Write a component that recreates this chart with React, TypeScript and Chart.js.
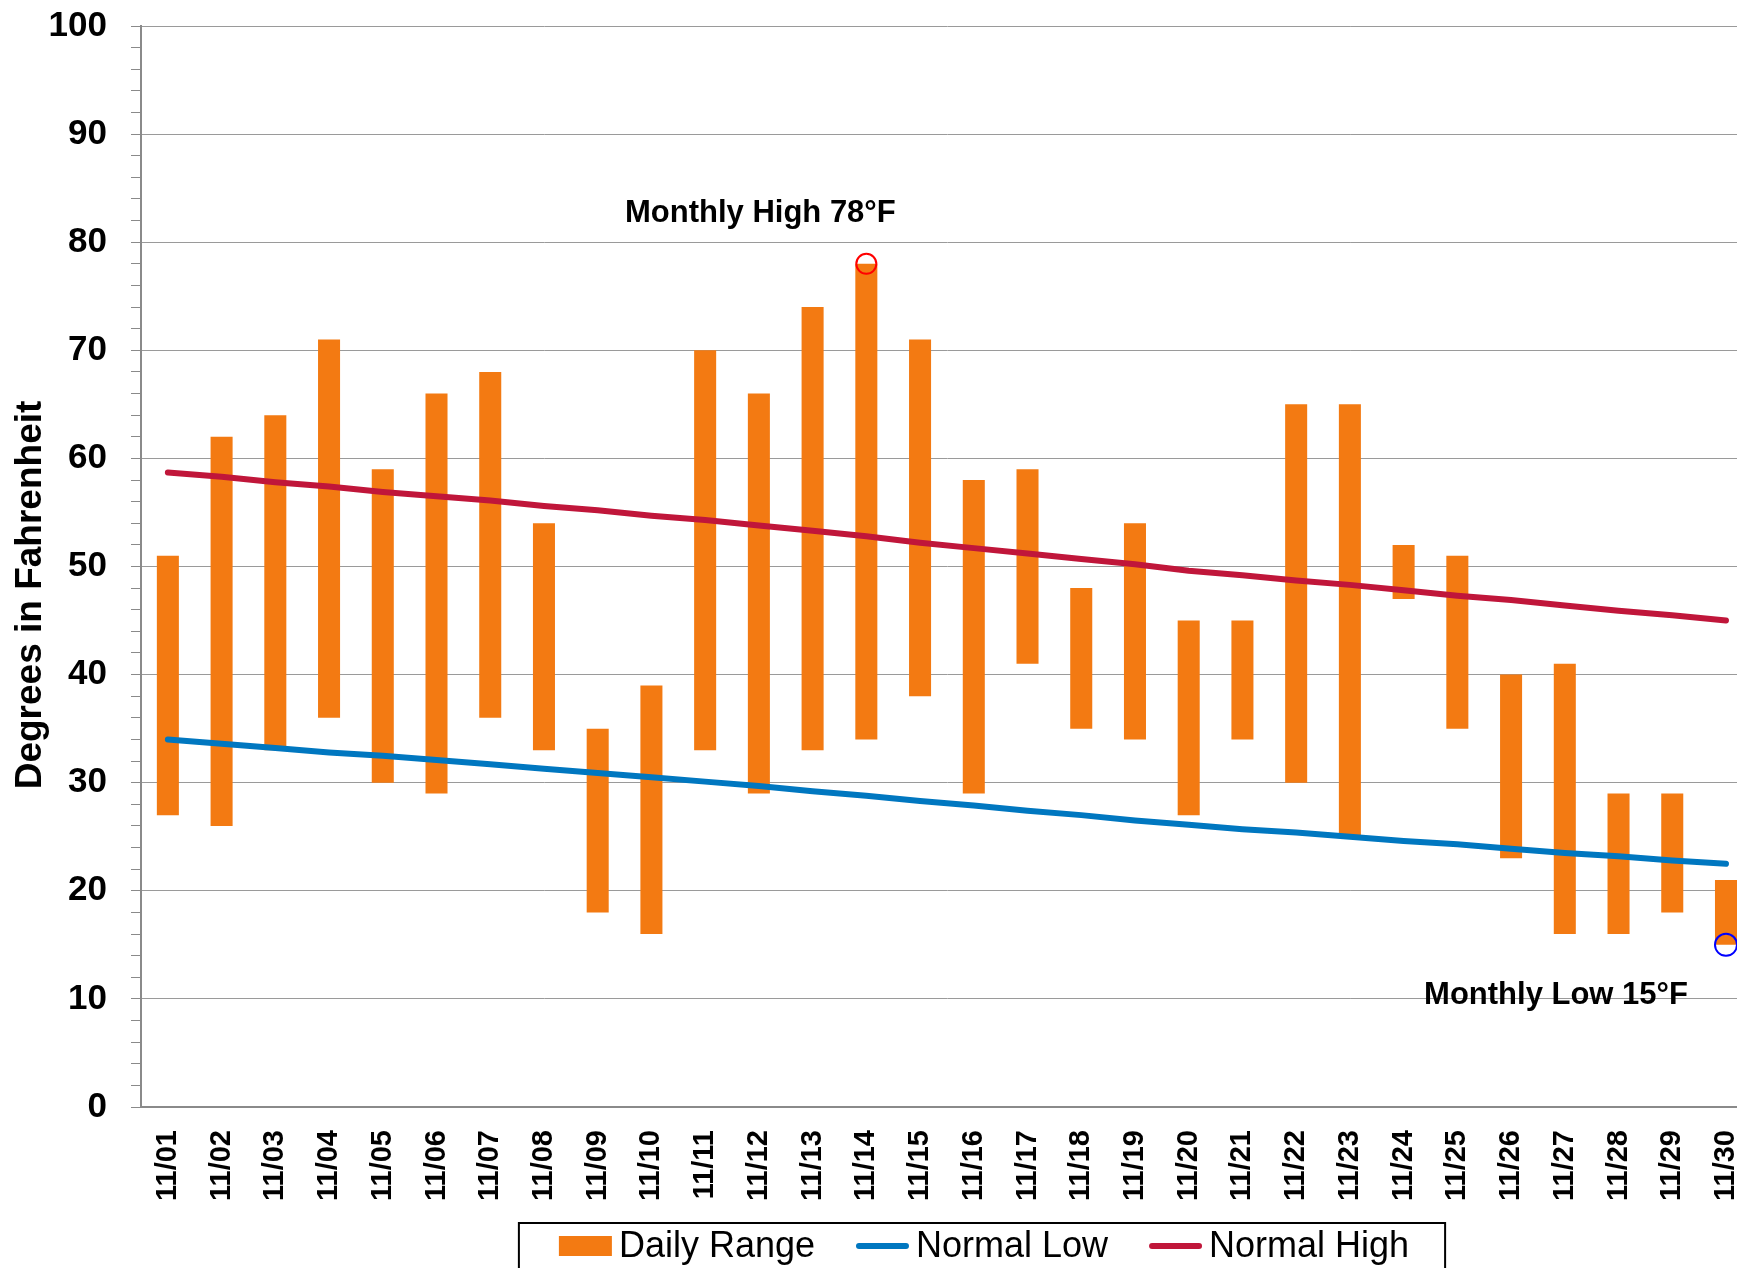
import { useEffect, useRef } from 'react';
import { Chart, registerables } from 'chart.js';

Chart.register(...registerables);

const categories = [
  '11/01', '11/02', '11/03', '11/04', '11/05', '11/06', '11/07', '11/08', '11/09', '11/10',
  '11/11', '11/12', '11/13', '11/14', '11/15', '11/16', '11/17', '11/18', '11/19', '11/20',
  '11/21', '11/22', '11/23', '11/24', '11/25', '11/26', '11/27', '11/28', '11/29', '11/30',
];
const dailyLows = [27, 26, 33, 36, 30, 29, 36, 33, 18, 16, 33, 29, 33, 34, 38, 29, 41, 35, 34, 27, 34, 30, 25, 47, 35, 23, 16, 16, 18, 15];
const dailyHighs = [51, 62, 64, 71, 59, 66, 68, 54, 35, 39, 70, 66, 74, 78, 71, 58, 59, 48, 54, 45, 45, 65, 65, 52, 51, 40, 41, 29, 29, 21];
const normalLow = [34.0, 33.6, 33.2, 32.8, 32.5, 32.1, 31.7, 31.3, 30.9, 30.5, 30.1, 29.7, 29.2, 28.8, 28.3, 27.9, 27.4, 27.0, 26.5, 26.1, 25.7, 25.4, 25.0, 24.6, 24.3, 23.9, 23.5, 23.2, 22.8, 22.5];
const normalHigh = [58.7, 58.3, 57.8, 57.4, 56.9, 56.5, 56.1, 55.6, 55.2, 54.7, 54.3, 53.8, 53.3, 52.8, 52.2, 51.7, 51.2, 50.7, 50.2, 49.6, 49.2, 48.7, 48.3, 47.8, 47.3, 46.9, 46.4, 45.9, 45.5, 45.0];
const yMajorTicks = [0, 10, 20, 30, 40, 50, 60, 70, 80, 90, 100];
const seriesLabels = ['Daily Range', 'Normal Low', 'Normal High'];
const seriesColors = ['#F37A12', '#0077C0', '#C0163A'];
const yTitle = 'Degrees in Fahrenheit';

const FONT = "'Liberation Sans', Arial, sans-serif";

export default function App() {
  const canvasRef = useRef<HTMLCanvasElement | null>(null);

  useEffect(() => {
    const canvas = canvasRef.current;
    if (!canvas) return;

    const maxHigh = Math.max(...dailyHighs);
    const maxIdx = dailyHighs.indexOf(maxHigh);
    const minLow = Math.min(...dailyLows);
    const minIdx = dailyLows.lastIndexOf(minLow);

    const extrasPlugin = {
      id: 'extras',
      afterDatasetsDraw(chart: any) {
        const ctx = chart.ctx as CanvasRenderingContext2D;
        const xs = chart.scales.x;
        const ys = chart.scales.y;
        ctx.save();
        ctx.fillStyle = '#000';
        ctx.font = `bold 31px ${FONT}`;
        ctx.textAlign = 'center';
        ctx.textBaseline = 'middle';
        const hx = xs.getPixelForValue(maxIdx);
        const hy = ys.getPixelForValue(maxHigh);
        ctx.fillText(`Monthly High ${maxHigh}°F`, hx - 106, hy - 50);
        const lx = xs.getPixelForValue(minIdx);
        const ly = ys.getPixelForValue(minLow);
        ctx.fillText(`Monthly Low ${minLow}°F`, lx - 170, ly + 51);
        ctx.restore();
      },
      afterDraw(chart: any) {
        const ctx = chart.ctx as CanvasRenderingContext2D;
        ctx.save();
        // y axis title
        ctx.translate(31, 595);
        ctx.rotate(-Math.PI / 2);
        ctx.fillStyle = '#000';
        ctx.font = `bold 37px ${FONT}`;
        ctx.textAlign = 'center';
        ctx.textBaseline = 'middle';
        ctx.fillText(yTitle, 0, 0);
        ctx.restore();

        // legend
        ctx.save();
        ctx.font = `36px ${FONT}`;
        const symW = 53;
        const symGap = 7;
        const itemGap = 41;
        const widths = seriesLabels.map((l) => ctx.measureText(l).width);
        const total = widths.reduce((a, b) => a + b, 0) + seriesLabels.length * (symW + symGap) + itemGap * (seriesLabels.length - 1);
        const cx = 984;
        let x = cx - total / 2;
        const cy = 1246;
        ctx.strokeStyle = '#000';
        ctx.lineWidth = 2;
        ctx.strokeRect(x - 40, 1223, total + 76, 90);
        ctx.textAlign = 'left';
        ctx.textBaseline = 'middle';
        seriesLabels.forEach((label, i) => {
          if (i === 0) {
            ctx.fillStyle = seriesColors[i];
            ctx.fillRect(x, cy - 10, symW, 20);
          } else {
            ctx.strokeStyle = seriesColors[i];
            ctx.lineWidth = 6;
            ctx.lineCap = 'round';
            ctx.beginPath();
            ctx.moveTo(x + 3, cy);
            ctx.lineTo(x + symW - 3, cy);
            ctx.stroke();
          }
          ctx.fillStyle = '#000';
          ctx.fillText(label, x + symW + symGap, cy + 1);
          x += symW + symGap + widths[i] + itemGap;
        });
        ctx.restore();
      },
    };

    const chart = new Chart(canvas, {
      type: 'bar',
      data: {
        labels: categories,
        datasets: [
          {
            type: 'line',
            label: 'Monthly High',
            data: dailyHighs.map((v, i) => (i === maxIdx ? v : null)),
            showLine: false,
            pointRadius: 10,
            pointBorderWidth: 2,
            pointBorderColor: '#FF0000',
            pointBackgroundColor: 'rgba(0,0,0,0)',
            order: 0,
          } as any,
          {
            type: 'line',
            label: 'Monthly Low',
            data: dailyLows.map((v, i) => (i === minIdx ? v : null)),
            showLine: false,
            pointRadius: 11,
            pointBorderWidth: 2,
            pointBorderColor: '#0000FF',
            pointBackgroundColor: 'rgba(0,0,0,0)',
            order: 0,
            clip: false,
          } as any,
          {
            type: 'line',
            label: seriesLabels[1],
            data: normalLow,
            borderColor: seriesColors[1],
            borderWidth: 6,
            borderCapStyle: 'round',
            borderJoinStyle: 'round',
            pointRadius: 0,
            tension: 0,
            order: 1,
          } as any,
          {
            type: 'line',
            label: seriesLabels[2],
            data: normalHigh,
            borderColor: seriesColors[2],
            borderWidth: 6,
            borderCapStyle: 'round',
            borderJoinStyle: 'round',
            pointRadius: 0,
            tension: 0,
            order: 1,
          } as any,
          {
            type: 'bar',
            label: seriesLabels[0],
            data: dailyLows.map((lo, i) => [lo, dailyHighs[i]]),
            backgroundColor: seriesColors[0],
            borderWidth: 0,
            barPercentage: 0.41,
            categoryPercentage: 1,
            grouped: false,
            order: 2,
          } as any,
        ],
      },
      options: {
        responsive: false,
        animation: false,
        devicePixelRatio: 1,
        layout: { padding: { left: 0, top: 26, right: 8, bottom: 55 } },
        plugins: {
          legend: { display: false },
          tooltip: { enabled: false },
          title: { display: false },
        },
        scales: {
          x: {
            type: 'category',
            offset: true,
            grid: { display: false, drawTicks: false },
            border: { display: true, color: '#8a8a8a', width: 2 },
            ticks: {
              autoSkip: false,
              maxRotation: 90,
              minRotation: 90,
              padding: 23,
              color: '#000',
              font: { family: FONT, size: 29, weight: 'bold' },
            },
            afterFit(scale: any) {
              scale.height = 106;
            },
          },
          y: {
            type: 'linear',
            min: 0,
            max: 100,
            border: { display: true, color: '#8a8a8a', width: 2 },
            grid: {
              color: (c: any) => (yMajorTicks.includes(c.tick?.value) ? '#9a9a9a' : 'rgba(0,0,0,0)'),
              tickColor: '#8a8a8a',
              tickLength: 10,
              lineWidth: 1,
              drawTicks: true,
            },
            ticks: {
              stepSize: 2,
              autoSkip: false,
              padding: 24,
              color: '#000',
              font: { family: FONT, size: 35, weight: 'bold' },
              callback: (v: any) => (yMajorTicks.includes(Number(v)) ? String(v) : ''),
            },
            afterFit(scale: any) {
              scale.width = 141;
              scale.paddingTop = 0;
              scale.paddingBottom = 0;
            },
          },
        },
      },
      plugins: [extrasPlugin],
    } as any);

    return () => {
      chart.destroy();
    };
  }, []);

  return (
    <div
      style={{
        position: 'fixed',
        left: 0,
        top: 0,
        width: 1737,
        height: 1268,
        overflow: 'hidden',
        background: '#ffffff',
      }}
    >
      <canvas
        ref={canvasRef}
        width={1784}
        height={1268}
        style={{ display: 'block', width: 1784, height: 1268 }}
      />
    </div>
  );
}
